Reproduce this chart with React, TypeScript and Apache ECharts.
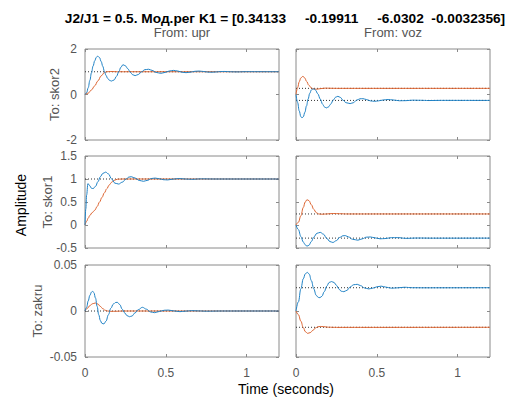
import React, { useEffect, useRef } from 'react';
import * as echarts from 'echarts';

const FONT = "'Liberation Sans', Arial, Helvetica, sans-serif";
const BLUE = '#1f82c6';
const ORANGE = '#dd6430';
const AXIS_GRAY = '#8a8a8a';
const LABEL_GRAY = '#555555';

const titleText = 'J2/J1 = 0.5. Мод.рег K1 = [0.34133     -0.19911     -6.0302  -0.0032356]';
const inputNames = ['From: upr', 'From: voz'];
const outputNames = ['To: skor2', 'To: skor1', 'To: zakru'];
const xTickValues = [0, 0.5, 1];
const xMax = 1.2;
const yTicksSkor2 = [-2, 0, 2];
const yTicksSkor1 = [-0.5, 0, 0.5, 1, 1.5];
const yTicksZakru = [-0.05, 0, 0.05];
const yTicks = [yTicksSkor2, yTicksSkor1, yTicksZakru];

// upr -> skor2
const uprSkor2Blue = [[0,0],[0.01,0.08],[0.02,0.3],[0.03,0.62],[0.04,0.95],[0.05,1.25],[0.06,1.48],[0.07,1.63],[0.078,1.69],[0.09,1.62],[0.1,1.45],[0.11,1.24],[0.12,1.02],[0.13,0.84],[0.14,0.71],[0.15,0.63],[0.163,0.59],[0.18,0.64],[0.195,0.8],[0.21,1.02],[0.222,1.2],[0.235,1.31],[0.25,1.26],[0.265,1.13],[0.28,0.98],[0.295,0.87],[0.31,0.83],[0.33,0.88],[0.35,1.0],[0.37,1.09],[0.393,1.11],[0.415,1.06],[0.44,0.97],[0.469,0.93],[0.495,0.97],[0.52,1.03],[0.547,1.06],[0.575,1.03],[0.6,0.98],[0.625,0.96],[0.65,0.98],[0.68,1.02],[0.705,1.03],[0.735,1.01],[0.76,0.985],[0.785,0.98],[0.81,0.99],[0.84,1.01],[0.865,1.012],[0.9,1.0],[0.94,0.993],[1.0,1.003],[1.2,1.0]];
const uprSkor2Orange = [[0,0],[0.02,0.06],[0.04,0.2],[0.06,0.38],[0.08,0.6],[0.1,0.82],[0.12,0.96],[0.135,1.0],[0.16,1.01],[0.2,1.0],[1.2,1.0]];
// voz -> skor2
const vozSkor2Blue = [[0,0],[0.01,-0.35],[0.02,-0.72],[0.03,-0.97],[0.037,-1.03],[0.045,-0.98],[0.055,-0.78],[0.065,-0.5],[0.075,-0.2],[0.085,0.05],[0.095,0.2],[0.109,0.25],[0.12,0.2],[0.135,0.03],[0.15,-0.2],[0.165,-0.43],[0.175,-0.54],[0.187,-0.59],[0.2,-0.55],[0.215,-0.42],[0.23,-0.25],[0.245,-0.12],[0.259,-0.08],[0.275,-0.13],[0.29,-0.25],[0.31,-0.36],[0.335,-0.4],[0.355,-0.36],[0.375,-0.25],[0.395,-0.19],[0.413,-0.18],[0.435,-0.22],[0.46,-0.28],[0.486,-0.3],[0.51,-0.28],[0.54,-0.24],[0.57,-0.22],[0.6,-0.24],[0.64,-0.275],[0.68,-0.27],[0.72,-0.25],[0.77,-0.255],[0.82,-0.265],[0.9,-0.258],[1.2,-0.26]];
const vozSkor2Orange = [[0,0],[0.01,0.3],[0.02,0.56],[0.03,0.73],[0.043,0.8],[0.055,0.72],[0.065,0.58],[0.08,0.4],[0.095,0.29],[0.11,0.24],[0.13,0.235],[0.155,0.26],[0.18,0.28],[0.21,0.275],[0.25,0.27],[1.2,0.27]];
// upr -> skor1
const uprSkor1Blue = [[0,0],[0.005,0.35],[0.01,0.65],[0.018,0.9],[0.028,0.86],[0.04,0.8],[0.05,0.79],[0.065,0.84],[0.08,0.94],[0.095,1.05],[0.11,1.12],[0.128,1.15],[0.145,1.11],[0.165,1.0],[0.185,0.91],[0.208,0.89],[0.23,0.93],[0.255,1.0],[0.27,1.04],[0.286,1.05],[0.31,1.02],[0.335,0.97],[0.362,0.95],[0.39,0.975],[0.41,1.01],[0.434,1.02],[0.46,1.005],[0.485,0.985],[0.511,0.98],[0.54,0.995],[0.58,1.01],[0.62,1.0],[0.66,0.993],[0.72,1.003],[0.8,1.0],[1.2,1.0]];
const uprSkor1Orange = [[0,0],[0.01,0.08],[0.02,0.15],[0.03,0.21],[0.045,0.27],[0.06,0.32],[0.075,0.4],[0.09,0.5],[0.105,0.6],[0.12,0.7],[0.135,0.79],[0.15,0.87],[0.165,0.93],[0.18,0.97],[0.2,0.995],[0.23,1.0],[1.2,1.0]];
// voz -> skor1
const vozSkor1Blue = [[0,0],[0.015,-0.1],[0.03,-0.25],[0.045,-0.37],[0.057,-0.43],[0.068,-0.46],[0.08,-0.44],[0.095,-0.36],[0.11,-0.26],[0.13,-0.18],[0.15,-0.16],[0.17,-0.2],[0.19,-0.29],[0.21,-0.36],[0.228,-0.38],[0.25,-0.34],[0.27,-0.27],[0.29,-0.235],[0.305,-0.23],[0.325,-0.26],[0.35,-0.31],[0.383,-0.33],[0.41,-0.3],[0.435,-0.265],[0.46,-0.26],[0.49,-0.28],[0.52,-0.3],[0.55,-0.295],[0.59,-0.275],[0.63,-0.275],[0.68,-0.29],[0.75,-0.283],[0.85,-0.286],[1.2,-0.285]];
const vozSkor1Orange = [[0,0],[0.015,0.06],[0.03,0.2],[0.045,0.38],[0.057,0.5],[0.068,0.55],[0.08,0.53],[0.095,0.44],[0.11,0.34],[0.125,0.27],[0.14,0.24],[0.16,0.235],[0.19,0.24],[0.23,0.25],[0.27,0.245],[0.32,0.24],[1.2,0.24]];
// upr -> zakru
const uprZakruBlue = [[0,0],[0.01,0.004],[0.02,0.011],[0.03,0.017],[0.04,0.0205],[0.047,0.0214],[0.055,0.02],[0.065,0.014],[0.075,0.005],[0.085,-0.004],[0.095,-0.0105],[0.105,-0.0135],[0.117,-0.014],[0.13,-0.011],[0.145,-0.004],[0.16,0.003],[0.175,0.0075],[0.19,0.0093],[0.2,0.0094],[0.215,0.007],[0.23,0.002],[0.245,-0.002],[0.26,-0.005],[0.275,-0.0062],[0.29,-0.0055],[0.31,-0.002],[0.33,0.0015],[0.355,0.004],[0.38,0.002],[0.405,-0.001],[0.43,-0.0018],[0.46,-0.0005],[0.49,0.0008],[0.515,0.001],[0.55,0.0001],[0.587,-0.0007],[0.62,-0.0002],[0.66,0.0004],[0.7,0.0001],[0.75,-0.0002],[0.85,0],[1.2,0]];
const uprZakruOrange = [[0,0],[0.015,0.003],[0.03,0.0058],[0.045,0.0078],[0.064,0.0087],[0.08,0.0075],[0.095,0.005],[0.11,0.0025],[0.125,0.0008],[0.14,0],[0.16,-0.0004],[0.19,-0.0003],[0.24,0],[1.2,0]];
// voz -> zakru
const vozZakruBlue = [[0,0],[0.015,0.01],[0.03,0.024],[0.045,0.035],[0.058,0.0405],[0.07,0.042],[0.082,0.04],[0.095,0.033],[0.11,0.024],[0.125,0.017],[0.138,0.0148],[0.148,0.0145],[0.16,0.016],[0.175,0.021],[0.19,0.027],[0.205,0.031],[0.22,0.032],[0.235,0.031],[0.25,0.028],[0.265,0.024],[0.28,0.0215],[0.296,0.021],[0.315,0.0225],[0.335,0.026],[0.355,0.0285],[0.379,0.029],[0.4,0.0275],[0.425,0.025],[0.45,0.024],[0.475,0.0248],[0.5,0.0263],[0.527,0.027],[0.555,0.026],[0.59,0.0248],[0.63,0.0252],[0.67,0.0258],[0.72,0.0253],[0.8,0.0252],[1.2,0.0253]];
const vozZakruOrange = [[0,0],[0.015,-0.004],[0.03,-0.011],[0.045,-0.018],[0.058,-0.0225],[0.072,-0.0243],[0.088,-0.0235],[0.105,-0.021],[0.12,-0.0185],[0.135,-0.0172],[0.15,-0.0168],[0.17,-0.017],[0.2,-0.0176],[0.25,-0.0178],[1.2,-0.0177]];

// steady-state values (dotted reference lines): [row][col] -> values
const steadySkor2 = [[1], [0.27, -0.26]];
const steadySkor1 = [[1], [0.24, -0.285]];
const steadyZakru = [[0], [0.0253, -0.0177]];
const steady = [steadySkor2, steadySkor1, steadyZakru];

const panels = [
  [[uprSkor2Blue, uprSkor2Orange], [vozSkor2Blue, vozSkor2Orange]],
  [[uprSkor1Blue, uprSkor1Orange], [vozSkor1Blue, vozSkor1Orange]],
  [[uprZakruBlue, uprZakruOrange], [vozZakruBlue, vozZakruOrange]],
];

// layout
const colLeft = [85, 296];
const colWidth = 194;
const rowTop = [49, 156, 265];
const rowHeight = [91, 92, 92];
const toLabelX = [54, 47.5, 37.5];

export default function App() {
  const ref = useRef<HTMLDivElement>(null);
  useEffect(() => {
    document.body.style.margin = '0';
    if (!ref.current) return;
    const chart = echarts.init(ref.current, undefined, { renderer: 'svg' });
    const grid: any[] = [];
    const xAxis: any[] = [];
    const yAxis: any[] = [];
    const series: any[] = [];
    let g = 0;
    for (let r = 0; r < 3; r++) {
      for (let c = 0; c < 2; c++) {
        grid.push({
          left: colLeft[c], top: rowTop[r], width: colWidth, height: rowHeight[r],
          show: true, borderColor: AXIS_GRAY, borderWidth: 1, backgroundColor: '#fff',
        });
        const ticks = yTicks[r];
        const yMin = ticks[0];
        const yMax = ticks[ticks.length - 1];
        const showX = r === 2;
        const showY = c === 0;
        const xBase = {
          type: 'value', gridIndex: g, min: 0, max: xMax,
          axisLine: { show: false, onZero: false }, splitLine: { show: false },
          axisTick: { show: true, inside: true, length: 3, lineStyle: { color: AXIS_GRAY }, customValues: xTickValues },
        };
        xAxis.push({
          ...xBase, position: 'bottom',
          axisLabel: { show: showX, customValues: xTickValues, color: LABEL_GRAY, fontSize: 12, fontFamily: FONT, margin: 10 },
        });
        xAxis.push({ ...xBase, position: 'top', axisLabel: { show: false } });
        const yBase = {
          type: 'value', gridIndex: g, min: yMin, max: yMax,
          axisLine: { show: false, onZero: false }, splitLine: { show: false },
          axisTick: { show: true, inside: true, length: 3, lineStyle: { color: AXIS_GRAY }, customValues: ticks },
        };
        yAxis.push({
          ...yBase, position: 'left',
          axisLabel: { show: showY, customValues: ticks, color: LABEL_GRAY, fontSize: 12, fontFamily: FONT, margin: 8 },
        });
        yAxis.push({ ...yBase, position: 'right', axisLabel: { show: false } });
        const xi = g * 2;
        const yi = g * 2;
        steady[r][c].forEach((v) => {
          series.push({
            type: 'line', xAxisIndex: xi, yAxisIndex: yi, data: [[0, v], [xMax, v]],
            symbol: 'none', silent: true, z: 1,
            lineStyle: { color: '#333', width: 1, type: [1, 2] },
          });
        });
        const [blue, orange] = panels[r][c];
        series.push({
          type: 'line', xAxisIndex: xi, yAxisIndex: yi, data: blue, symbol: 'none',
          smooth: 0.4, smoothMonotone: 'x', z: 3, lineStyle: { color: BLUE, width: 1 },
        });
        series.push({
          type: 'line', xAxisIndex: xi, yAxisIndex: yi, data: orange, symbol: 'none',
          smooth: 0.4, smoothMonotone: 'x', z: 2, lineStyle: { color: ORANGE, width: 1 },
        });
        g++;
      }
    }
    const graphic: any[] = [
      {
        type: 'text', x: 285, y: 18,
        style: { text: titleText, fontFamily: FONT, fontSize: 13.7, fontWeight: 'bold', fill: '#000', textAlign: 'center', textVerticalAlign: 'middle' },
      },
      {
        type: 'text', x: 21, y: 205, rotation: Math.PI / 2,
        style: { text: 'Amplitude', fontFamily: FONT, fontSize: 14, fill: '#000', textAlign: 'center', textVerticalAlign: 'middle' },
      },
      {
        type: 'text', x: 286, y: 389,
        style: { text: 'Time (seconds)', fontFamily: FONT, fontSize: 14, fill: '#000', textAlign: 'center', textVerticalAlign: 'middle' },
      },
    ];
    inputNames.forEach((name, c) => {
      graphic.push({
        type: 'text', x: colLeft[c] + colWidth / 2, y: 32.5,
        style: { text: name, fontFamily: FONT, fontSize: 13, fill: LABEL_GRAY, textAlign: 'center', textVerticalAlign: 'middle' },
      });
    });
    outputNames.forEach((name, r) => {
      graphic.push({
        type: 'text', x: toLabelX[r], y: rowTop[r] + rowHeight[r] / 2, rotation: Math.PI / 2,
        style: { text: name, fontFamily: FONT, fontSize: 13, fill: LABEL_GRAY, textAlign: 'center', textVerticalAlign: 'middle' },
      });
    });
    chart.setOption({ animation: false, backgroundColor: '#fff', grid, xAxis, yAxis, series, graphic });
    return () => chart.dispose();
  }, []);
  return <div ref={ref} style={{ width: 511, height: 397 }} />;
}
